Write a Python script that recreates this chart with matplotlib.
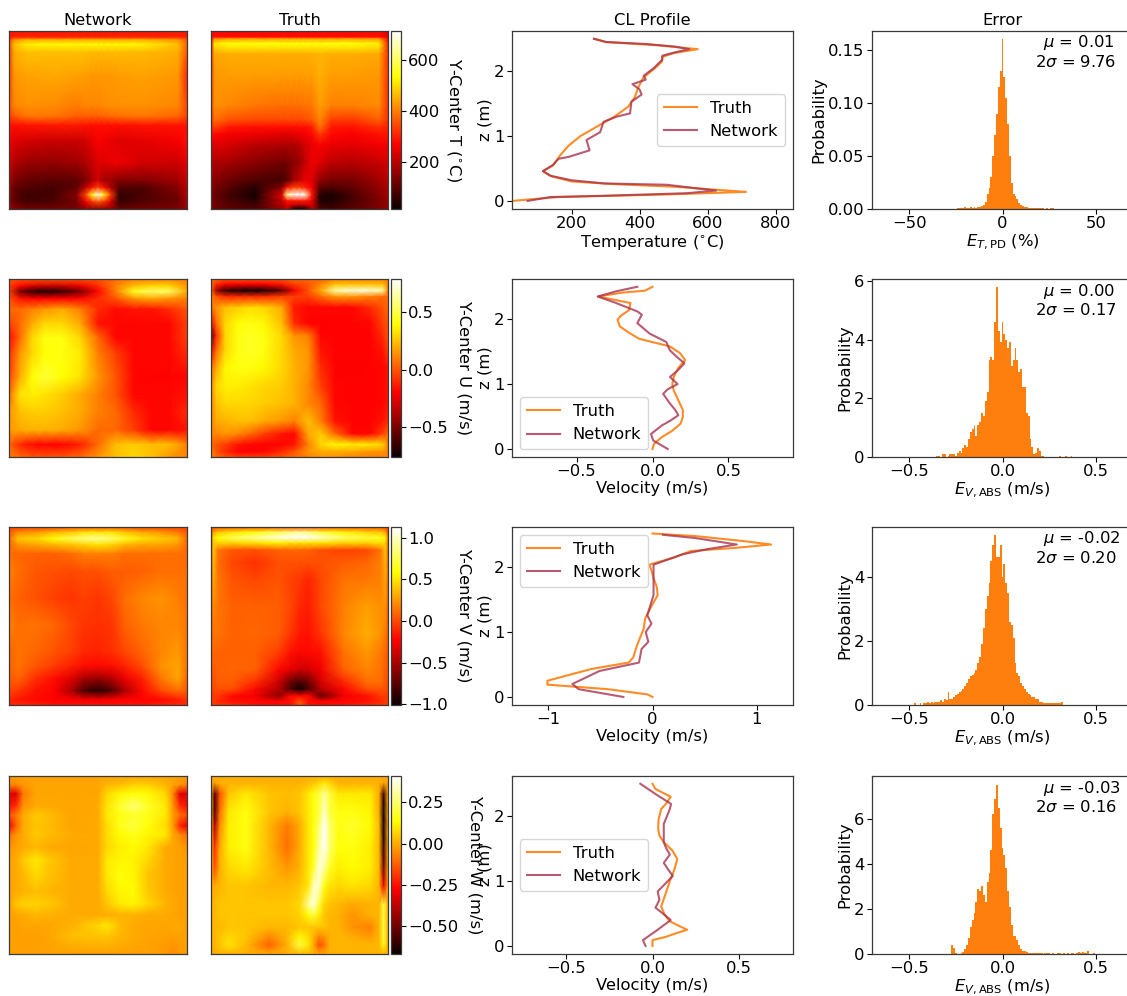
import numpy as np
import matplotlib
matplotlib.use('Agg')
import matplotlib.pyplot as plt

plt.rcParams['font.size'] = 11.8
plt.rcParams['axes.titlesize'] = 11.8
plt.rcParams['axes.linewidth'] = 0.9
plt.rcParams['axes.edgecolor'] = '#3a3a3a'
plt.rcParams['xtick.major.pad'] = 1.8
plt.rcParams['ytick.major.pad'] = 1.8

W, H = 1127, 996
orange = '#ff7f0e'
rose = '#a8324f'

# ---- centre plane fields, node positions are fractions of the box (y from the top)
tx_net = [0, .03, .1, .25, .38, .43, .47, .5, .53, .57, .62, .75, .95, 1]
ty_net = [0, .035, .05, .075, .12, .25, .42, .48, .53, .62, .74, .84, .88, .92, .96, 1]
t_net = [
    [290, 290, 290, 290, 290, 290, 290, 290, 290, 290, 290, 290, 290, 290],
    [300, 310, 310, 310, 310, 310, 310, 310, 310, 310, 310, 310, 310, 300],
    [330, 420, 450, 450, 450, 450, 450, 450, 450, 450, 450, 450, 420, 360],
    [350, 470, 520, 530, 530, 530, 535, 535, 530, 530, 530, 525, 470, 370],
    [340, 450, 470, 470, 470, 470, 465, 465, 465, 465, 465, 465, 450, 360],
    [340, 430, 440, 445, 440, 435, 430, 430, 430, 430, 435, 440, 430, 310],
    [350, 410, 420, 415, 400, 410, 410, 410, 415, 420, 420, 420, 410, 340],
    [340, 360, 395, 390, 370, 370, 370, 370, 375, 380, 385, 395, 375, 340],
    [290, 285, 290, 295, 295, 290, 285, 285, 285, 285, 285, 290, 290, 290],
    [260, 240, 225, 215, 215, 225, 250, 270, 260, 250, 240, 245, 265, 285],
    [230, 190, 170, 160, 175, 190, 215, 240, 240, 250, 255, 225, 220, 250],
    [190, 135, 115, 100, 105, 135, 190, 220, 180, 170, 145, 145, 175, 220],
    [170, 115, 95, 80, 105, 200, 290, 340, 290, 190, 95, 90, 150, 210],
    [160, 105, 70, 80, 150, 340, 560, 690, 560, 340, 60, 85, 130, 200],
    [150, 105, 80, 90, 130, 250, 330, 360, 330, 230, 65, 95, 120, 180],
    [190, 150, 130, 130, 130, 160, 160, 150, 160, 160, 120, 130, 140, 180],
]
tx_true = [0, .02, .1, .25, .4, .43, .47, .5, .53, .57, .615, .68, .8, .95, 1]
ty_true = [0, .035, .045, .07, .1, .13, .25, .42, .5, .54, .58, .64, .74, .84, .88, .92, .955, .98, 1]
t_true = [
    [280, 280, 280, 280, 280, 280, 280, 280, 280, 280, 280, 280, 280, 280, 250],
    [285, 285, 285, 285, 285, 285, 285, 285, 285, 285, 285, 285, 285, 285, 250],
    [290, 420, 440, 440, 440, 440, 440, 440, 440, 440, 440, 440, 440, 430, 280],
    [300, 510, 535, 540, 540, 540, 540, 540, 540, 540, 540, 540, 540, 520, 300],
    [310, 480, 500, 500, 500, 500, 500, 500, 500, 500, 500, 500, 500, 490, 310],
    [320, 445, 450, 450, 450, 450, 450, 450, 450, 455, 460, 450, 450, 445, 320],
    [320, 430, 435, 435, 435, 435, 435, 435, 435, 435, 455, 435, 435, 430, 320],
    [320, 420, 410, 395, 385, 385, 385, 385, 390, 395, 435, 405, 405, 415, 320],
    [320, 385, 355, 345, 345, 345, 345, 345, 350, 365, 410, 335, 330, 370, 320],
    [310, 340, 295, 285, 285, 285, 285, 285, 285, 300, 390, 295, 290, 320, 300],
    [290, 280, 265, 255, 245, 245, 250, 255, 265, 280, 330, 280, 270, 290, 290],
    [250, 240, 230, 200, 190, 190, 190, 200, 225, 250, 270, 250, 245, 260, 260],
    [200, 190, 180, 150, 125, 130, 150, 170, 210, 255, 240, 205, 195, 215, 230],
    [170, 150, 120, 90, 80, 100, 185, 215, 250, 240, 155, 130, 130, 175, 200],
    [160, 130, 100, 50, 150, 290, 340, 340, 310, 260, 100, 90, 110, 160, 190],
    [150, 120, 80, 30, 240, 640, 700, 712, 690, 300, 50, 35, 85, 150, 180],
    [145, 120, 90, 50, 210, 290, 300, 300, 300, 250, 40, 40, 85, 140, 170],
    [150, 125, 100, 80, 190, 240, 200, 190, 200, 220, 70, 60, 95, 140, 165],
    [150, 125, 100, 90, 170, 210, 25, 22, 25, 190, 90, 80, 100, 140, 160],
]

ux_net = [0, .06, .13, .2, .3, .4, .5, .6, .7, .8, .9, 1]
uy_net = [0, .04, .07, .11, .17, .25, .33, .42, .55, .65, .75, .85, .93, 1]
u_net = [
    [.0, .0, .0, .0, .0, .0, .0, .05, .1, .1, .1, .1],
    [-.05, -.18, -.28, -.32, -.32, -.25, -.1, .1, .25, .3, .3, .15],
    [-.05, -.5, -.68, -.72, -.66, -.5, -.18, .1, .45, .55, .55, .2],
    [.0, -.15, -.2, -.2, -.2, -.18, -.1, .0, .15, .2, .15, .1],
    [.05, .05, .1, .15, .2, .1, -.1, -.17, -.15, -.15, -.1, .0],
    [-.05, .05, .2, .3, .3, .2, -.15, -.18, -.18, -.18, -.18, -.05],
    [-.18, .05, .3, .42, .42, .3, .05, -.18, -.18, -.18, -.18, -.05],
    [-.1, .15, .3, .4, .42, .35, .1, -.05, -.18, -.18, -.18, -.1],
    [-.05, .2, .4, .48, .4, .33, .15, .0, -.18, -.19, -.19, -.18],
    [.05, .33, .36, .33, .28, .2, .1, .0, -.18, -.18, -.18, -.15],
    [.15, .25, .28, .28, .25, .2, .1, .05, -.1, -.18, -.18, -.1],
    [.15, .2, .22, .22, .2, .15, .05, .05, -.05, -.18, -.18, -.15],
    [.05, -.1, -.17, -.19, -.19, -.13, .05, .25, .28, .25, .25, .1],
    [.1, .05, .0, .0, .0, .05, .15, .25, .3, .25, .15, .1],
]
ux_true = [0, .03, .08, .15, .22, .3, .4, .47, .55, .62, .7, .8, .9, .97, 1]
uy_true = [0, .03, .065, .1, .16, .25, .32, .4, .5, .6, .7, .8, .87, .93, .97, 1]
u_true = [
    [.05, .05, .0, .0, .0, .0, .0, .05, .05, .05, .1, .1, .1, .1, .1],
    [.05, -.1, -.18, -.2, -.2, -.2, -.14, -.05, .0, .1, .25, .25, .25, .25, .1],
    [.05, -.4, -.65, -.72, -.76, -.72, -.55, -.22, .0, .2, .65, .72, .72, .65, .1],
    [.1, .0, -.1, -.1, -.1, -.1, -.05, -.05, -.05, .05, .15, .15, .1, .05, .05],
    [.05, .15, .25, .28, .32, .3, .2, -.14, -.18, -.18, -.18, -.18, -.1, .0, .05],
    [-.22, .05, .3, .4, .42, .38, .25, -.1, -.19, -.19, -.19, -.19, -.18, -.05, .0],
    [-.6, -.1, .3, .42, .45, .42, .3, .15, .1, -.18, -.19, -.19, -.19, -.1, .0],
    [-.22, .05, .3, .42, .45, .42, .3, .2, .15, -.15, -.19, -.19, -.19, -.15, -.05],
    [.05, .2, .38, .42, .42, .38, .3, .22, .15, -.1, -.19, -.2, -.19, -.18, -.15],
    [.1, .3, .36, .36, .33, .3, .28, .22, .12, -.05, -.18, -.19, -.19, -.18, -.15],
    [.1, .25, .3, .3, .3, .28, .25, .22, .12, .05, -.18, -.19, -.19, -.18, -.15],
    [.1, .2, .22, .25, .25, .2, .15, .1, .25, .1, -.15, -.19, -.19, -.15, -.1],
    [.1, .12, .15, .12, .05, -.05, -.14, -.18, .2, .28, .05, -.18, -.18, -.05, .05],
    [.05, .0, -.05, -.14, -.18, -.19, -.19, -.15, .1, .3, .38, .35, .35, .3, .1],
    [.1, .0, -.1, -.19, -.19, -.18, -.1, .0, .15, .2, .2, .2, .15, .15, .1],
    [.1, .05, .0, -.05, -.05, -.05, .0, .05, .1, .15, .15, .1, .1, .1, .1],
]

vx_net = [0, .05, .15, .25, .35, .42, .5, .58, .65, .75, .85, .95, 1]
vy_net = [0, .03, .065, .1, .15, .25, .4, .55, .7, .78, .85, .92, .97, 1]
v_net = [
    [.0, .0, .0, .0, .05, .05, .05, .05, .05, .0, .0, .0, .0],
    [.05, .2, .25, .35, .4, .5, .5, .5, .4, .3, .25, .15, .05],
    [.1, .4, .45, .6, .75, .85, .9, .8, .65, .5, .42, .35, .1],
    [.1, .25, .3, .35, .4, .45, .5, .45, .35, .3, .3, .25, .1],
    [.12, .1, .08, .08, .12, .18, .18, .18, .12, .12, .12, .12, .1],
    [.18, .12, .05, .02, .0, .02, .02, .06, .06, .08, .12, .12, .12],
    [.12, .08, .03, -.03, -.06, -.03, -.06, .0, .12, .2, .24, .18, .12],
    [.18, .12, .14, .1, .0, -.06, -.08, -.06, .08, .16, .2, .2, .14],
    [.08, .14, .1, .04, -.03, -.1, -.12, -.08, .0, .1, .2, .26, .14],
    [.08, .14, .05, -.04, -.13, -.19, -.2, -.19, -.12, .02, .22, .3, .12],
    [.05, .1, -.08, -.19, -.32, -.5, -.55, -.45, -.28, -.12, .15, .3, .1],
    [.0, -.05, -.18, -.22, -.5, -.8, -.92, -.78, -.5, -.2, .0, .12, .05],
    [-.1, -.15, -.2, -.22, -.24, -.26, -.26, -.24, -.22, -.22, -.2, -.14, -.05],
    [-.1, -.1, -.14, -.18, -.18, -.18, -.18, -.18, -.18, -.18, -.14, -.1, -.1],
]
vx_true = [0, .015, .04, .12, .25, .38, .45, .5, .55, .62, .75, .88, .96, .985, 1]
vy_true = [0, .03, .06, .09, .13, .2, .3, .45, .6, .7, .8, .87, .91, .95, .98, 1]
v_true = [
    [.0, .0, .05, .05, .05, .05, .05, .05, .05, .05, .05, .05, .05, .0, .0],
    [.0, .3, .4, .5, .6, .75, .85, .9, .85, .7, .55, .45, .4, .3, .0],
    [.1, .5, .6, .75, .9, 1.05, 1.1, 1.13, 1.1, 1.0, .8, .7, .65, .55, .1],
    [.1, .4, .45, .45, .5, .55, .5, .5, .5, .5, .45, .45, .5, .45, .1],
    [.1, .4, .15, .05, .02, .08, .1, .1, .08, .02, -.02, .0, .15, .4, .1],
    [.1, .35, .12, .0, -.08, .02, .02, .02, .02, .02, .06, .1, .18, .35, .1],
    [.1, .3, .15, .04, .0, .04, -.02, -.05, -.12, .0, .14, .16, .18, .3, .1],
    [.05, .2, .15, .08, .08, .07, .0, -.1, -.14, .0, .18, .28, .22, .25, .05],
    [.05, .14, .14, .08, .1, .06, -.05, -.15, -.18, -.06, .2, .32, .24, .16, .05],
    [.05, .1, .08, .08, .08, -.02, -.18, -.2, -.2, -.18, .14, .26, .16, .1, .05],
    [.02, .06, .08, .1, .08, -.2, -.3, -.38, -.36, -.26, .08, .2, .14, .06, .02],
    [.0, .02, .06, .06, -.08, -.38, -.7, -.8, -.7, -.36, -.1, .12, .12, .05, .0],
    [.0, .0, .02, .02, -.2, -.45, -.8, -1.0, -.8, -.45, -.2, .02, .05, .02, .0],
    [-.05, -.05, -.05, -.2, -.26, -.6, -.2, -.2, -.2, -.72, -.26, -.18, -.05, -.05, -.05],
    [-.05, -.05, -.1, -.18, -.2, -.22, -.18, .05, -.18, -.22, -.2, -.18, -.1, -.05, -.05],
    [-.05, -.05, -.05, -.1, -.18, -.2, -.18, .05, -.18, -.2, -.18, -.1, -.05, -.05, -.05],
]

wx_net = [0, .04, .08, .15, .22, .35, .5, .55, .62, .7, .78, .88, .92, .96, 1]
wy_net = [0, .05, .1, .17, .22, .28, .33, .4, .47, .55, .65, .72, .78, .84, .9, 1]
w_net = [
    [-.02, -.02, -.02, -.02, -.02, -.02, -.02, -.02, -.02, -.02, -.02, -.02, -.02, -.02, -.02],
    [-.06, -.06, -.03, -.01, -.01, -.01, -.01, .02, .03, .06, .06, .02, -.01, -.04, -.06],
    [-.32, -.32, -.08, -.01, -.01, -.01, -.01, .07, .12, .14, .13, .07, -.05, -.32, -.32],
    [-.25, -.2, -.04, .0, .0, -.01, .0, .09, .18, .26, .18, .1, -.03, -.2, -.25],
    [-.15, -.08, .0, .05, .03, -.01, .0, .1, .15, .18, .16, .1, -.02, -.1, -.15],
    [-.3, -.12, .0, .04, .03, -.01, .0, .08, .16, .2, .14, .08, -.02, -.22, -.3],
    [-.1, -.04, .0, .05, .03, .0, .0, .08, .13, .16, .12, .1, .0, -.05, -.1],
    [-.04, -.02, .0, .02, .0, -.01, .0, .07, .11, .13, .1, .0, -.01, -.02, -.04],
    [-.02, .0, .05, .1, .05, .0, .0, .1, .12, .12, .07, .0, -.01, -.02, -.02],
    [-.02, .0, .02, .08, .04, .0, .0, .1, .14, .12, .04, .0, -.01, -.02, -.02],
    [-.02, .0, .01, .03, .02, .0, .0, .07, .12, .13, .05, .0, -.01, -.02, -.02],
    [-.02, .04, .06, .06, .05, .0, .0, .04, .1, .12, .07, .01, .0, -.02, -.02],
    [-.02, -.01, .0, .02, .01, .0, .0, .0, .01, .01, .0, .0, -.01, -.02, -.02],
    [-.02, -.02, -.01, -.01, -.01, .01, .07, .1, .03, .0, -.01, -.01, .0, .0, -.02],
    [-.02, -.02, -.02, -.02, -.01, .03, .04, .04, .02, .0, -.01, -.02, -.02, -.02, -.02],
    [-.02, -.02, -.02, -.02, -.02, -.02, -.02, -.02, -.02, -.02, -.02, -.03, -.05, -.03, -.02],
]
wx_true = [0, .02, .05, .1, .2, .33, .43, .5, .55, .58, .61, .64, .67, .72, .8, .9, .95, .975, 1]
wy_true = [0, .04, .1, .2, .28, .4, .52, .62, .72, .78, .85, .9, .95, 1]
w_true = [
    [.0, .0, .0, .0, .0, .0, .0, .0, .0, .0, .0, .0, .0, .0, .0, .0, .0, .0, .0],
    [.01, -.02, .01, .01, .01, .01, .01, .01, .03, .04, .07, .1, .07, .01, .01, .01, .01, -.02, .0],
    [.0, -.55, -.15, .04, .1, .04, .03, .04, .1, .15, .2, .3, .2, .1, .1, .1, .0, -.6, .0],
    [.0, -.55, -.1, .1, .15, .04, .01, .04, .1, .15, .2, .35, .2, .15, .15, .12, .0, -.65, .0],
    [.0, -.4, -.05, .11, .15, .02, -.08, .0, .1, .15, .25, .41, .25, .15, .18, .13, .02, -.65, .0],
    [.0, -.2, .0, .11, .15, .02, -.1, .0, .1, .15, .3, .41, .25, .14, .15, .11, .02, -.6, .0],
    [.0, -.15, .01, .07, .1, .03, -.03, .01, .1, .18, .38, .3, .17, .11, .13, .11, .02, -.5, .0],
    [.0, .0, .02, .04, .04, .02, .02, .04, .1, .35, .35, .15, .09, .07, .09, .07, .01, -.3, .0],
    [.01, .02, .04, .04, .04, .04, .04, .07, .3, .38, .2, .07, .04, .02, .0, .01, .02, .2, .0],
    [.01, .02, .04, .04, .04, .04, .04, .06, .14, .2, .11, .04, .02, .01, -.04, .01, .02, .2, .0],
    [.01, .02, .02, .04, .04, .02, .02, .04, .04, .04, .04, .04, .02, .01, -.04, -.07, .02, .2, .0],
    [.01, .02, .04, .07, .04, -.05, .02, .12, .07, .01, -.05, -.03, .01, .02, .0, -.03, .02, .2, .0],
    [.01, .02, .04, .09, .02, -.12, .01, .2, .1, .0, -.15, -.1, .01, .02, .02, .02, .02, .15, .0],
    [.0, .0, .01, .01, .01, .0, .01, .02, .02, .01, .0, .0, .01, .01, .01, .01, .01, .01, .0],
]

# ---- colour limits and ticks of each row
limits = [(18, 713), (-.76, .79), (-1.01, 1.13), (-.67, .41)]
cbar_ticks = [[200, 400, 600], [-.5, 0, .5], [-1, -.5, 0, .5, 1], [-.5, -.25, 0, .25]]
cbar_labels = ['Y-Center T ($^{\\circ}$C)', 'Y-Center U (m/s)', 'Y-Center V (m/s)', 'Y-Center W (m/s)']

# ---- centreline profiles
z_t_net = [2.5, 2.45, 2.42, 2.38, 2.34, 2.29, 2.24, 2.18, 2.05, 1.93, 1.87, 1.8, 1.72, 1.64, 1.53, 1.35, 1.3, 1.22, 1.06, .94, .78, .68, .65, .55, .46, .39, .32, .27, .25, .16, .12, .08, .06, 0]
t_cl_net = [265, 301, 417, 502, 545, 502, 466, 466, 441, 411, 417, 378, 399, 405, 375, 371, 332, 293, 283, 243, 252, 191, 161, 143, 115, 136, 198, 295, 478, 624, 539, 295, 136, 70]
z_t_true = [2.5, 2.45, 2.4, 2.34, 2.28, 2.22, 2.15, 2.05, 1.9, 1.75, 1.6, 1.45, 1.3, 1.15, 1.0, .85, .7, .55, .46, .38, .3, .26, .22, .14, .1, .06, .03, 0]
t_cl_true = [265, 300, 450, 570, 500, 465, 465, 445, 410, 395, 385, 365, 325, 275, 225, 190, 165, 145, 115, 140, 200, 320, 500, 712, 480, 160, 90, 24]

z_u_net = [2.5, 2.43, 2.35, 2.25, 2.12, 2.07, 1.94, 1.78, 1.65, 1.52, 1.42, 1.32, 1.22, 1.11, 1.0, .92, .85, .7, .6, .52, .44, .36, .23, .13, 0]
u_cl_net = [-.1, -.24, -.36, -.24, -.1, -.07, -.1, -.02, .09, .115, .16, .21, .17, .115, .165, .1, .07, .115, .15, .17, .12, .06, -.01, .005, .1]
z_u_true = [2.5, 2.44, 2.41, 2.35, 2.25, 2.14, 2.05, 1.99, 1.89, 1.8, 1.7, 1.58, 1.48, 1.37, 1.25, 1.11, 1.0, .9, .75, .6, .5, .39, .28, .18, .08, 0]
u_cl_true = [0, -.05, -.2, -.36, -.145, -.155, -.21, -.23, -.215, -.16, -.09, .115, .18, .215, .17, .14, .13, .14, .17, .2, .2, .185, .13, .06, .01, 0]

z_v_net = [2.5, 2.45, 2.35, 2.28, 2.2, 2.04, 1.89, 1.57, 1.26, 1.13, 1.0, .85, .74, .53, .4, .2, .12, 0]
v_cl_net = [.1, .41, .81, .53, .29, .01, .01, .01, -.05, -.01, -.065, -.04, -.105, -.13, -.51, -.77, -.71, -.28]
z_v_true = [2.52, 2.48, 2.4, 2.35, 2.3, 2.25, 2.15, 2.04, 1.95, 1.83, 1.7, 1.57, 1.4, 1.21, 1.05, .79, .61, .53, .43, .25, .19, .12, .04, 0]
v_cl_true = [0, .41, .89, 1.14, .81, .37, .21, -.03, -.01, .01, .04, .05, -.01, -.07, -.085, -.15, -.185, -.23, -.59, -1.01, -1.01, -.43, -.05, 0]

z_w_net = [2.5, 2.32, 2.19, 2.11, 1.88, 1.6, 1.5, 1.41, 1.28, 1.18, 1.08, .95, .84, .71, .59, .5, .4, .25, .09, 0]
w_cl_net = [-.07, .03, .107, .1, .065, .065, .08, .1, .065, .09, .117, .07, .03, .04, .017, .06, .105, .03, -.055, -.04]
z_w_true = [2.5, 2.42, 2.3, 2.2, 2.11, 1.95, 1.8, 1.7, 1.6, 1.47, 1.34, 1.17, 1.0, .8, .61, .48, .38, .3, .25, .19, .14, .09, 0]
w_cl_true = [0, .017, .105, .08, .05, .035, .033, .04, .065, .115, .143, .125, .1, .075, .05, .07, .1, .16, .2, .13, .076, 0, 0]

profile_xlim = [(24, 850), (-.925, .925), (-1.35, 1.35), (-.81, .81)]
profile_xticks = [[200, 400, 600, 800], [-.5, 0, .5], [-1, 0, 1], [-.5, 0, .5]]
profile_xlabels = ['Temperature ($^{\\circ}$C)', 'Velocity (m/s)', 'Velocity (m/s)', 'Velocity (m/s)']
legend_locs = ['center right', 'lower left', 'upper left', 'center left']

# ---- error histograms
h1_start, h1_width = -25.5, 1.0
h1 = [.0003, .0005, .0005, .0008, .001, .0015, .0008, .001, .002, .001, .0015, .001, .002, .002, .003,
      .004, .007, .014, .02, .03, .05, .07, .09, .115, .13, .16, .125, .105, .08, .05, .025, .014, .012, .009, .006,
      .004, .003, .002, .0015, .001, .0008, .0008, .001, .0005, .0008, .0005, .0005, .001, .0003, .0005, .0003, .0005, .0008]
h2_start, h2_width = -.355, .01
h2 = [.05, .05, 0, .1, .1, 0, .05, .1, .1, .1,
      .05, .15, .2, .15, .3, .4, .35, .6, .85, .95,
      1.05, .7, 1.1, 1.2, 1.5, 1.4, 1.9, 2.2, 3.3, 3.4,
      3.3, 4.6, 5.8, 4.3, 3.9, 4.6, 4.2, 4.0, 3.7, 3.9,
      3.1, 3.3, 3.7, 3.3, 2.9, 3.0, 2.4, 2.4, 1.5, 1.4,
      .6, .35, .1, .15, .3, .2, .05, .05, 0, 0,
      0, 0, 0, 0, 0, 0, .05, 0, 0, .05, 0, 0, .05]
h3_start, h3_width = -.475, .01
h3 = [.05, 0, 0, .05, 0, .05, .05, .1, .05, .1, .05, .1, .08, .1, .15, .1, .2, .15, .4, .2,
      .2, .25, .3, .35, .4, .45, .5, .6, .7, .8, .9, .95, 1.0, 1.1, 1.3, 1.5, 1.9, 2.4, 3.0, 3.4,
      3.8, 4.5, 5.0, 5.3, 4.6, 4.6, 5.0, 4.0, 4.4, 3.8, 3.5, 2.6, 2.5, 2.1, 1.3, 1.0, .9, .7, .6, .5,
      .4, .35, .3, .25, .25, .2, .2, .1, .1, .05, .05, .05, .05, .05, .05, .05, .05, .05, .05, .08]
h4_start, h4_width = -.275, .01
h4 = [.4, .25, .05, 0, 0, .05, .1, .2, .4, .7, 1.2, 1.5, 1.8, 2.3, 2.9, 2.8, 3.0, 2.6, 2.3, 3.2,
      3.6, 4.6, 6.2, 6.9, 7.5, 6.5, 5.6, 4.7, 4.4, 3.8, 2.8, 2.1, 1.3, .8, .8, .6, .4, .2, .15, .15,
      .1, .05, .05, .05, .03, .03, .03, .03, .03, 0, .03, .03, .03, 0, .03, 0, 0, .03, .03, 0,
      .03, 0, .03, 0, .03, .03, 0, .03, .1, .05, .1, .05, .05, .15, 0, 0, .05]
hist_ymax = [.168, 6.06, 5.55, 7.9]
hist_xlim = [(-70, 70), (-.7, .7), (-.7, .7), (-.7, .7)]
hist_xticks = [[-50, 0, 50], [-.5, 0, .5], [-.5, 0, .5], [-.5, 0, .5]]
hist_yticks = [[0, .05, .1, .15], [0, 2, 4, 6], [0, 2, 4], [0, 2, 4, 6]]
hist_xlabels = ['$E_{T,\\mathrm{PD}}$ (%)', '$E_{V,\\mathrm{ABS}}$ (m/s)', '$E_{V,\\mathrm{ABS}}$ (m/s)', '$E_{V,\\mathrm{ABS}}$ (m/s)']
mu_text = ['$\\mu$ = 0.01', '$\\mu$ = 0.00', '$\\mu$ = -0.02', '$\\mu$ = -0.03']
sigma_text = ['$2\\sigma$ = 9.76', '$2\\sigma$ = 0.17', '$2\\sigma$ = 0.20', '$2\\sigma$ = 0.16']

net_x = [tx_net, ux_net, vx_net, wx_net]
net_y = [ty_net, uy_net, vy_net, wy_net]
net_f = [t_net, u_net, v_net, w_net]
true_x = [tx_true, ux_true, vx_true, wx_true]
true_y = [ty_true, uy_true, vy_true, wy_true]
true_f = [t_true, u_true, v_true, w_true]
cl_net = [(t_cl_net, z_t_net), (u_cl_net, z_u_net), (v_cl_net, z_v_net), (w_cl_net, z_w_net)]
cl_true = [(t_cl_true, z_t_true), (u_cl_true, z_u_true), (v_cl_true, z_v_true), (w_cl_true, z_w_true)]
hists = [(h1_start, h1_width, h1), (h2_start, h2_width, h2), (h3_start, h3_width, h3), (h4_start, h4_width, h4)]

row_top = [31, 279, 527, 776]
row_h = 178


def box(x0, x1, top):
    return [x0 / W, 1 - (top + row_h) / H, (x1 - x0) / W, row_h / H]


fig = plt.figure(figsize=(W / 100, H / 100), dpi=100)

for i in range(4):
    top = row_top[i]
    vmin, vmax = limits[i]

    a1 = fig.add_axes(box(9, 187, top))
    a1.pcolormesh(net_x[i], net_y[i], np.array(net_f[i]), shading='gouraud', cmap='hot', vmin=vmin, vmax=vmax)
    a2 = fig.add_axes(box(211, 388, top))
    im = a2.pcolormesh(true_x[i], true_y[i], np.array(true_f[i]), shading='gouraud', cmap='hot', vmin=vmin, vmax=vmax)
    for a in (a1, a2):
        a.set_ylim(1, 0)
        a.set_xticks([])
        a.set_yticks([])

    cax = fig.add_axes(box(391, 401, top))
    cb = fig.colorbar(im, cax=cax, ticks=cbar_ticks[i])
    cb.set_label(cbar_labels[i], rotation=270, labelpad=17)

    a3 = fig.add_axes(box(512, 793, top))
    a3.plot(cl_true[i][0], cl_true[i][1], color=orange, lw=1.5, alpha=0.9, label='Truth')
    a3.plot(cl_net[i][0], cl_net[i][1], color=rose, lw=1.5, alpha=0.8, label='Network')
    a3.set_xlim(profile_xlim[i])
    a3.set_ylim(-.124, 2.62)
    a3.set_xticks(profile_xticks[i])
    a3.set_yticks([0, 1, 2])
    a3.set_xlabel(profile_xlabels[i], labelpad=1)
    a3.set_ylabel('z (m)', labelpad=1)
    a3.legend(loc=legend_locs[i])

    a4 = fig.add_axes(box(872, 1133, top))
    start, width, vals = hists[i]
    edges = start + width * np.arange(len(vals) + 1)
    a4.stairs(vals, edges, fill=True, color=orange)
    a4.set_xlim(hist_xlim[i])
    a4.set_ylim(0, hist_ymax[i])
    a4.set_xticks(hist_xticks[i])
    a4.set_yticks(hist_yticks[i])
    a4.set_xlabel(hist_xlabels[i], labelpad=1)
    a4.set_ylabel('Probability', labelpad=1)
    fig.text(1043 / W, 1 - (top + 12) / H, mu_text[i], ha='left', va='center')
    fig.text(1035 / W, 1 - (top + 31) / H, sigma_text[i], ha='left', va='center')

    if i == 0:
        a1.set_title('Network', pad=4)
        a2.set_title('Truth', pad=4)
        a3.set_title('CL Profile', pad=4)
        a4.set_title('Error', pad=4)

fig.savefig('out.png', dpi=100)
